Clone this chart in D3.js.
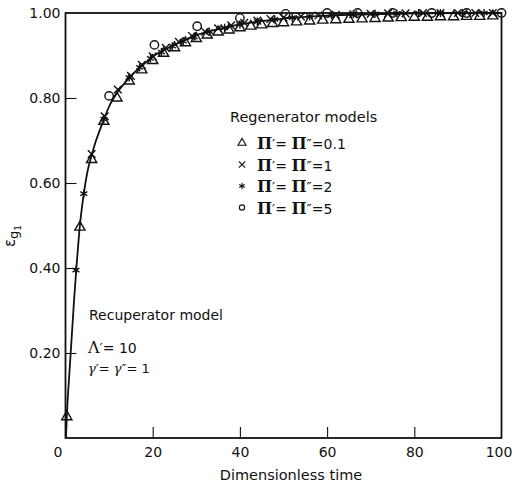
<!DOCTYPE html>
<html>
<head>
<meta charset="utf-8">
<script src="https://cdn.jsdelivr.net/npm/d3@7"></script>
<style>
  body { margin: 0; background: #fff; }
  text { font-family: "DejaVu Sans", sans-serif; fill: #111; }
</style>
</head>
<body>
<svg width="512" height="488"></svg>
<script>
// recuperator model curve
const lineT = [0.1, 0.3, 1, 2, 2.5, 3.3, 4.2, 5, 6, 7, 8, 9, 10, 12, 14, 16, 18, 20, 23, 26, 30, 35, 40, 45, 50, 55, 60, 70, 80, 90, 100];
const lineE = [0, 0.05, 0.17, 0.33, 0.40, 0.50, 0.575, 0.625, 0.665, 0.70, 0.728, 0.755, 0.78, 0.815, 0.84, 0.862, 0.88, 0.897, 0.915, 0.93, 0.948, 0.962, 0.973, 0.981, 0.987, 0.991, 0.994, 0.997, 0.999, 1.0, 1.0];

// regenerator models, Pi' = Pi'' = 0.1 (triangles)
const triT = [0.3, 3.3, 6, 8.8, 11.8, 14.6, 17.5, 20, 22.5, 25, 27.5, 30, 32.5, 35, 37.5, 40, 42.5, 45, 47.5, 50, 53, 56, 59, 62, 65, 68, 71, 74, 77, 80, 83, 86, 89, 92, 95, 98];
const triE = [0.05, 0.496, 0.655, 0.745, 0.80, 0.84, 0.866, 0.888, 0.905, 0.918, 0.93, 0.94, 0.948, 0.955, 0.96, 0.965, 0.969, 0.972, 0.975, 0.977, 0.979, 0.981, 0.983, 0.984, 0.985, 0.986, 0.987, 0.988, 0.989, 0.99, 0.99, 0.991, 0.991, 0.992, 0.992, 0.993];

// Pi' = Pi'' = 1 (crosses)
const crossT = [6, 9, 12, 15, 17.5, 20, 23, 26, 29, 32, 35, 38, 41, 44, 47, 50, 54, 58, 62, 66, 70, 74, 78, 82, 86, 90, 94, 98];
const crossE = [0.668, 0.757, 0.82, 0.852, 0.878, 0.898, 0.918, 0.932, 0.946, 0.956, 0.964, 0.971, 0.977, 0.982, 0.986, 0.989, 0.992, 0.994, 0.996, 0.997, 0.998, 0.999, 0.999, 1.0, 1.0, 1.0, 1.0, 1.0];

// Pi' = Pi'' = 2 (stars)
const starT = [2.4, 4.2, 8.8, 14.6, 17, 19.5, 22, 24.5, 27, 29.5, 33, 36.5, 40, 44, 48, 52, 56, 61, 66, 71, 76, 81, 86, 91, 96];
const starE = [0.395, 0.575, 0.75, 0.848, 0.872, 0.893, 0.908, 0.922, 0.934, 0.944, 0.956, 0.965, 0.973, 0.98, 0.985, 0.989, 0.992, 0.995, 0.997, 0.998, 0.999, 1.0, 1.0, 1.0, 1.0];

// Pi' = Pi'' = 5 (circles)
const circT = [10, 20.4, 30.2, 40, 50.5, 60, 67, 75, 84, 92, 100];
const circE = [0.805, 0.925, 0.969, 0.988, 0.998, 1.0, 1.0, 1.0, 1.0, 1.0, 1.0];

const xTicks = [0, 20, 40, 60, 80, 100];
const yTicks = [0.2, 0.4, 0.6, 0.8, 1.0];
const legendLabels = ["0.1", "1", "2", "5"];

const svg = d3.select('svg');
const x = d3.scaleLinear().domain([0, 100]).range([65.5, 501.5]);
const y = d3.scaleLinear().domain([0, 1]).range([438, 13]);

// frame
svg.append('rect')
  .attr('x', 65.5).attr('y', 13)
  .attr('width', 436).attr('height', 425)
  .attr('fill', 'none').attr('stroke', '#111').attr('stroke-width', 1.8);

// axes, ticks pointing inward
const xAxis = svg.append('g')
  .attr('transform', 'translate(0,438)')
  .call(d3.axisBottom(x).tickValues(xTicks).tickSize(-11).tickPadding(9).tickFormat(d3.format('d')));
xAxis.select('.domain').remove();
xAxis.selectAll('line').attr('stroke', '#111').attr('stroke-width', 1.1)
  .filter(d => d === 0 || d === 100).remove();
xAxis.selectAll('text').style('font-size', '14px')
  .attr('x', d => d === 0 ? -8 : (d === 100 ? -3 : 0));

const yAxis = svg.append('g')
  .attr('transform', 'translate(65.5,0)')
  .call(d3.axisLeft(y).tickValues(yTicks).tickSize(-11).tickPadding(5).tickFormat(d3.format('.2f')));
yAxis.select('.domain').remove();
yAxis.selectAll('line').attr('stroke', '#111').attr('stroke-width', 1.1)
  .filter(d => d === 1).remove();
yAxis.selectAll('text').style('font-size', '14px');

// axis titles
svg.append('text')
  .attr('x', 291).attr('y', 480)
  .attr('text-anchor', 'middle')
  .style('font-size', '14.5px')
  .text('Dimensionless time');

const yl = svg.append('text')
  .attr('transform', 'translate(15,236) rotate(-90)')
  .attr('text-anchor', 'middle')
  .style('font-size', '15px');
yl.append('tspan').text('ε');
yl.append('tspan').attr('dy', 3).style('font-size', '13px').text('g');
yl.append('tspan').attr('dy', 3).style('font-size', '9px').text('1');

// recuperator curve
const line = d3.line().x((d, i) => x(lineT[i])).y(d => y(d)).curve(d3.curveMonotoneX);
svg.append('path')
  .attr('d', line(lineE))
  .attr('fill', 'none').attr('stroke', '#111').attr('stroke-width', 1.8);

// regenerator markers
const series = [
  { t: triT, e: triE, sym: d3.symbolTriangle, size: 45 },
  { t: crossT, e: crossE, sym: d3.symbolX, size: 40 },
  { t: starT, e: starE, sym: d3.symbolAsterisk, size: 45 },
  { t: circT, e: circE, sym: d3.symbolCircle, size: 55 }
];

series.forEach(s => {
  svg.append('g').selectAll('path')
    .data(s.e)
    .join('path')
    .attr('transform', (d, i) => `translate(${x(s.t[i])},${y(d)})`)
    .attr('d', d3.symbol().type(s.sym).size(s.size))
    .attr('fill', 'none').attr('stroke', '#111').attr('stroke-width', 1.4);
});

// legend
svg.append('text')
  .attr('x', 230).attr('y', 122)
  .style('font-size', '14.5px')
  .text('Regenerator models');

const leg = svg.append('g');
legendLabels.forEach((lab, i) => {
  const ly = 143 + i * 21.5;
  leg.append('path')
    .attr('transform', `translate(242,${ly})`)
    .attr('d', d3.symbol().type(series[i].sym).size(i === 3 ? 22 : 28))
    .attr('fill', 'none').attr('stroke', '#111').attr('stroke-width', 1.1);
  const t = leg.append('text')
    .attr('x', 257).attr('y', ly + 6)
    .style('font-size', '14px');
  t.append('tspan').style('font-family', 'DejaVu Serif').style('font-weight', 'bold').style('font-size', '16px').text('Π');
  t.append('tspan').text('′= ');
  t.append('tspan').style('font-family', 'DejaVu Serif').style('font-weight', 'bold').style('font-size', '16px').text('Π');
  t.append('tspan').text('″=' + lab);
});

// recuperator annotation
svg.append('text')
  .attr('x', 89).attr('y', 320)
  .style('font-size', '14px')
  .text('Recuperator model');
svg.append('text')
  .attr('x', 88).attr('y', 353)
  .style('font-size', '14px')
  .html('<tspan style="font-family:DejaVu Serif;font-size:16px">Λ</tspan>′= 10');
svg.append('text')
  .attr('x', 88).attr('y', 373)
  .style('font-size', '13px')
  .html('<tspan style="font-style:italic;font-family:DejaVu Serif">γ</tspan>′= <tspan style="font-style:italic;font-family:DejaVu Serif">γ</tspan>″= 1');
</script>
</body>
</html>
